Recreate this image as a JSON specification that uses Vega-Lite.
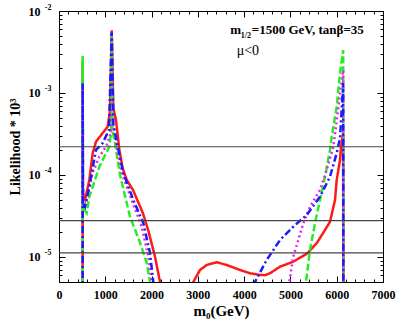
{
  "$schema": "https://vega.github.io/schema/vega-lite/v6.json",
  "width": 324,
  "height": 271,
  "autosize": "none",
  "padding": {"left": 59, "top": 11, "right": 13, "bottom": 45},
  "config": {
    "view": {"stroke": "#000000", "strokeWidth": 1},
    "axis": {"domain": false, "grid": false, "tickColor": "#000000", "tickWidth": 1, "labelColor": "#000000", "titleColor": "#000000", "labelFont": "Liberation Serif", "titleFont": "Liberation Serif", "labelFontWeight": "bold", "titleFontWeight": "bold", "labelFlush": false, "labelOverlap": false}
  },
  "datasets": {
    "curves": [
      {"m0": 510, "L": 1e-8, "s": "s1"}, {"m0": 512, "L": 2.48e-3, "s": "s1"}, {"m0": 516, "L": 6.0e-5, "s": "s1"}, {"m0": 565, "L": 5.0e-5, "s": "s1"}, {"m0": 655, "L": 8.7e-5, "s": "s1"}, {"m0": 728, "L": 1.85e-4, "s": "s1"}, {"m0": 799, "L": 2.55e-4, "s": "s1"}, {"m0": 944, "L": 3.25e-4, "s": "s1"}, {"m0": 1052, "L": 3.88e-4, "s": "s1"}, {"m0": 1100, "L": 6.0e-4, "s": "s1"}, {"m0": 1139, "L": 5.8e-3, "s": "s1"}, {"m0": 1175, "L": 6.5e-4, "s": "s1"}, {"m0": 1231, "L": 4.7e-4, "s": "s1"}, {"m0": 1303, "L": 2.05e-4, "s": "s1"}, {"m0": 1376, "L": 1.2e-4, "s": "s1"}, {"m0": 1463, "L": 8.7e-5, "s": "s1"}, {"m0": 1599, "L": 6.56e-5, "s": "s1"}, {"m0": 1815, "L": 3.4e-5, "s": "s1"}, {"m0": 1929, "L": 2.1e-5, "s": "s1"}, {"m0": 2074, "L": 1.01e-5, "s": "s1"}, {"m0": 2182, "L": 4.95e-6, "s": "s1"}, {"m0": 2230, "L": 1e-8, "s": "s1"}, {"m0": 2860, "L": 1e-8, "s": "s1"}, {"m0": 2902, "L": 4.95e-6, "s": "s1"}, {"m0": 3046, "L": 6.94e-6, "s": "s1"}, {"m0": 3191, "L": 7.98e-6, "s": "s1"}, {"m0": 3407, "L": 8.62e-6, "s": "s1"}, {"m0": 3623, "L": 7.98e-6, "s": "s1"}, {"m0": 3911, "L": 6.94e-6, "s": "s1"}, {"m0": 4127, "L": 6.33e-6, "s": "s1"}, {"m0": 4343, "L": 6.03e-6, "s": "s1"}, {"m0": 4450, "L": 6.0e-6, "s": "s1"}, {"m0": 4559, "L": 6.33e-6, "s": "s1"}, {"m0": 4775, "L": 7.61e-6, "s": "s1"}, {"m0": 5062, "L": 8.76e-6, "s": "s1"}, {"m0": 5351, "L": 1.09e-5, "s": "s1"}, {"m0": 5567, "L": 1.47e-5, "s": "s1"}, {"m0": 5747, "L": 2.13e-5, "s": "s1"}, {"m0": 5855, "L": 2.69e-5, "s": "s1"}, {"m0": 5963, "L": 4.95e-5, "s": "s1"}, {"m0": 6000, "L": 8.69e-5, "s": "s1"}, {"m0": 6071, "L": 1.52e-4, "s": "s1"}, {"m0": 6093, "L": 2.21e-4, "s": "s1"}, {"m0": 6138, "L": 3.25e-4, "s": "s1"}, {"m0": 6146, "L": 1e-8, "s": "s1"},
      {"m0": 510, "L": 1e-8, "s": "s2"}, {"m0": 512, "L": 2.83e-3, "s": "s2"}, {"m0": 518, "L": 4.0e-5, "s": "s2"}, {"m0": 598, "L": 3.44e-5, "s": "s2"}, {"m0": 655, "L": 5.44e-5, "s": "s2"}, {"m0": 871, "L": 1.26e-4, "s": "s2"}, {"m0": 1087, "L": 2.21e-4, "s": "s2"}, {"m0": 1125, "L": 3.3e-4, "s": "s2"}, {"m0": 1139, "L": 5.5e-3, "s": "s2"}, {"m0": 1155, "L": 3.5e-4, "s": "s2"}, {"m0": 1210, "L": 2.45e-4, "s": "s2"}, {"m0": 1318, "L": 1.0e-4, "s": "s2"}, {"m0": 1534, "L": 3.1e-5, "s": "s2"}, {"m0": 1750, "L": 1.5e-5, "s": "s2"}, {"m0": 1895, "L": 8.5e-6, "s": "s2"}, {"m0": 1966, "L": 4.95e-6, "s": "s2"}, {"m0": 2010, "L": 1e-8, "s": "s2"}, {"m0": 5290, "L": 1e-8, "s": "s2"}, {"m0": 5336, "L": 4.95e-6, "s": "s2"}, {"m0": 5423, "L": 1.22e-5, "s": "s2"}, {"m0": 5531, "L": 2.58e-5, "s": "s2"}, {"m0": 5639, "L": 4.95e-5, "s": "s2"}, {"m0": 5747, "L": 9.53e-5, "s": "s2"}, {"m0": 5855, "L": 2.02e-4, "s": "s2"}, {"m0": 5892, "L": 2.93e-4, "s": "s2"}, {"m0": 6000, "L": 6.81e-4, "s": "s2"}, {"m0": 6071, "L": 1.75e-3, "s": "s2"}, {"m0": 6140, "L": 3.34e-3, "s": "s2"}, {"m0": 6148, "L": 1e-8, "s": "s2"},
      {"m0": 510, "L": 1e-8, "s": "s3"}, {"m0": 512, "L": 1.2e-3, "s": "s3"}, {"m0": 518, "L": 4.5e-5, "s": "s3"}, {"m0": 570, "L": 4.3e-5, "s": "s3"}, {"m0": 728, "L": 1.06e-4, "s": "s3"}, {"m0": 871, "L": 1.67e-4, "s": "s3"}, {"m0": 1015, "L": 2.21e-4, "s": "s3"}, {"m0": 1123, "L": 3.25e-4, "s": "s3"}, {"m0": 1139, "L": 5.5e-3, "s": "s3"}, {"m0": 1165, "L": 4.2e-4, "s": "s3"}, {"m0": 1240, "L": 2.3e-4, "s": "s3"}, {"m0": 1355, "L": 1.06e-4, "s": "s3"}, {"m0": 1571, "L": 4.95e-5, "s": "s3"}, {"m0": 1787, "L": 2.34e-5, "s": "s3"}, {"m0": 1929, "L": 1.01e-5, "s": "s3"}, {"m0": 2003, "L": 4.95e-6, "s": "s3"}, {"m0": 2050, "L": 1e-8, "s": "s3"}, {"m0": 4930, "L": 1e-8, "s": "s3"}, {"m0": 4976, "L": 4.95e-6, "s": "s3"}, {"m0": 5062, "L": 1.01e-5, "s": "s3"}, {"m0": 5170, "L": 1.61e-5, "s": "s3"}, {"m0": 5278, "L": 2.58e-5, "s": "s3"}, {"m0": 5423, "L": 4.1e-5, "s": "s3"}, {"m0": 5639, "L": 6.56e-5, "s": "s3"}, {"m0": 5783, "L": 1.15e-4, "s": "s3"}, {"m0": 5927, "L": 2.21e-4, "s": "s3"}, {"m0": 6140, "L": 1.9e-3, "s": "s3"}, {"m0": 6148, "L": 1e-8, "s": "s3"},
      {"m0": 510, "L": 1e-8, "s": "s4"}, {"m0": 512, "L": 1.32e-3, "s": "s4"}, {"m0": 518, "L": 4.5e-5, "s": "s4"}, {"m0": 562, "L": 4.1e-5, "s": "s4"}, {"m0": 655, "L": 7.19e-5, "s": "s4"}, {"m0": 799, "L": 2.02e-4, "s": "s4"}, {"m0": 944, "L": 2.45e-4, "s": "s4"}, {"m0": 1080, "L": 3.54e-4, "s": "s4"}, {"m0": 1139, "L": 5.5e-3, "s": "s4"}, {"m0": 1175, "L": 4.2e-4, "s": "s4"}, {"m0": 1250, "L": 2.5e-4, "s": "s4"}, {"m0": 1389, "L": 1.06e-4, "s": "s4"}, {"m0": 1605, "L": 4.95e-5, "s": "s4"}, {"m0": 1821, "L": 2.6e-5, "s": "s4"}, {"m0": 1966, "L": 1.12e-5, "s": "s4"}, {"m0": 2037, "L": 4.95e-6, "s": "s4"}, {"m0": 2080, "L": 1e-8, "s": "s4"}, {"m0": 4190, "L": 1e-8, "s": "s4"}, {"m0": 4234, "L": 4.95e-6, "s": "s4"}, {"m0": 4487, "L": 9.19e-6, "s": "s4"}, {"m0": 4775, "L": 1.61e-5, "s": "s4"}, {"m0": 5062, "L": 2.34e-5, "s": "s4"}, {"m0": 5351, "L": 3.25e-5, "s": "s4"}, {"m0": 5639, "L": 5.44e-5, "s": "s4"}, {"m0": 5855, "L": 9.53e-5, "s": "s4"}, {"m0": 6000, "L": 1.85e-4, "s": "s4"}, {"m0": 6071, "L": 2.8e-4, "s": "s4"}, {"m0": 6140, "L": 1.32e-3, "s": "s4"}, {"m0": 6148, "L": 1e-8, "s": "s4"}
    ],
    "cuts": [{"L": 2.21e-4}, {"L": 2.77e-5}, {"L": 1.12e-5}],
    "mainText": [{"m0": 3700, "L": 5.2e-3, "t": "m"}, {"m0": 4165, "L": 5.2e-3, "t": "=1500 GeV, tanβ=35"}],
    "subText": [{"m0": 3925, "L": 4.7e-3, "t": "1/2"}],
    "muText": [{"m0": 3839, "L": 2.9e-3, "t": "μ<0"}]
  },
  "resolve": {"axis": {"x": "independent", "y": "independent"}},
  "layer": [
    {
      "data": {"name": "curves"},
      "mark": {"type": "line", "strokeWidth": 2.5, "clip": true},
      "encoding": {
        "x": {"field": "m0", "type": "quantitative", "scale": {"domain": [0, 7000], "nice": false, "zero": false},
          "axis": {"orient": "bottom", "values": [0, 1000, 2000, 3000, 4000, 5000, 6000, 7000], "format": "d", "tickSize": -6, "labelPadding": 13, "labelFontSize": 12, "title": "m₀(GeV)", "titleFontSize": 15, "titlePadding": 3}},
        "y": {"field": "L", "type": "quantitative", "scale": {"type": "log", "domain": [4.95e-6, 1e-2], "nice": false},
          "axis": {"orient": "left", "values": [1e-5, 1e-4, 1e-3, 1e-2], "labelExpr": "'10'", "tickSize": -6, "labelPadding": 25, "labelFontSize": 12, "labelBaseline": "middle", "title": "Likelihood * 10³", "titleFontSize": 14, "titlePadding": 6}},
        "color": {"field": "s", "type": "nominal", "scale": {"domain": ["s1", "s2", "s3", "s4"], "range": ["#ff1a1a", "#22ee22", "#ee22ee", "#1a1aff"]}, "legend": null},
        "strokeDash": {"field": "s", "type": "nominal", "scale": {"domain": ["s1", "s2", "s3", "s4"], "range": [[1, 0], [7, 3], [2, 3], [7, 3, 2, 3]]}, "legend": null}
      }
    },
    {
      "data": {"name": "cuts"},
      "mark": {"type": "rule", "color": "#444444", "strokeWidth": 1.2, "clip": true},
      "encoding": {
        "y": {"field": "L", "type": "quantitative", "scale": {"type": "log", "domain": [4.95e-6, 1e-2], "nice": false},
          "axis": {"orient": "left", "values": [1e-5, 1e-4, 1e-3, 1e-2], "labelExpr": "'' + round(log(datum.value)/LN10)", "ticks": false, "labelPadding": 8, "labelOffset": -4, "labelFontSize": 8, "labelBaseline": "middle", "title": null}}
      }
    },
    {
      "data": {"name": "mainText"},
      "mark": {"type": "text", "font": "Liberation Serif", "fontWeight": "bold", "fontSize": 13, "align": "left", "baseline": "alphabetic", "color": "#000000"},
      "encoding": {
        "x": {"field": "m0", "type": "quantitative", "scale": {"domain": [0, 7000], "nice": false, "zero": false},
          "axis": {"orient": "bottom", "values": [200, 400, 600, 800, 1200, 1400, 1600, 1800, 2200, 2400, 2600, 2800, 3200, 3400, 3600, 3800, 4200, 4400, 4600, 4800, 5200, 5400, 5600, 5800, 6200, 6400, 6600, 6800], "tickSize": -3, "labels": false, "title": null}},
        "y": {"field": "L", "type": "quantitative", "scale": {"type": "log", "domain": [4.95e-6, 1e-2], "nice": false},
          "axis": {"orient": "left", "values": [5e-6, 6e-6, 7e-6, 8e-6, 9e-6, 2e-5, 3e-5, 4e-5, 5e-5, 6e-5, 7e-5, 8e-5, 9e-5, 2e-4, 3e-4, 4e-4, 5e-4, 6e-4, 7e-4, 8e-4, 9e-4, 2e-3, 3e-3, 4e-3, 5e-3, 6e-3, 7e-3, 8e-3, 9e-3], "tickSize": -3, "labels": false, "title": null}},
        "text": {"field": "t"}
      }
    },
    {
      "data": {"name": "subText"},
      "mark": {"type": "text", "font": "Liberation Serif", "fontWeight": "bold", "fontSize": 8, "align": "left", "baseline": "alphabetic", "color": "#000000"},
      "encoding": {
        "x": {"field": "m0", "type": "quantitative", "scale": {"domain": [0, 7000], "nice": false, "zero": false},
          "axis": {"orient": "top", "values": [0, 1000, 2000, 3000, 4000, 5000, 6000, 7000], "tickSize": -6, "labels": false, "title": null}},
        "y": {"field": "L", "type": "quantitative", "scale": {"type": "log", "domain": [4.95e-6, 1e-2], "nice": false},
          "axis": {"orient": "right", "values": [1e-5, 1e-4, 1e-3, 1e-2], "tickSize": -6, "labels": false, "title": null}},
        "text": {"field": "t"}
      }
    },
    {
      "data": {"name": "muText"},
      "mark": {"type": "text", "font": "Liberation Serif", "fontSize": 14, "align": "left", "baseline": "alphabetic", "color": "#000000"},
      "encoding": {
        "x": {"field": "m0", "type": "quantitative", "scale": {"domain": [0, 7000], "nice": false, "zero": false},
          "axis": {"orient": "top", "values": [200, 400, 600, 800, 1200, 1400, 1600, 1800, 2200, 2400, 2600, 2800, 3200, 3400, 3600, 3800, 4200, 4400, 4600, 4800, 5200, 5400, 5600, 5800, 6200, 6400, 6600, 6800], "tickSize": -3, "labels": false, "title": null}},
        "y": {"field": "L", "type": "quantitative", "scale": {"type": "log", "domain": [4.95e-6, 1e-2], "nice": false},
          "axis": {"orient": "right", "values": [5e-6, 6e-6, 7e-6, 8e-6, 9e-6, 2e-5, 3e-5, 4e-5, 5e-5, 6e-5, 7e-5, 8e-5, 9e-5, 2e-4, 3e-4, 4e-4, 5e-4, 6e-4, 7e-4, 8e-4, 9e-4, 2e-3, 3e-3, 4e-3, 5e-3, 6e-3, 7e-3, 8e-3, 9e-3], "tickSize": -3, "labels": false, "title": null}},
        "text": {"field": "t"}
      }
    }
  ]
}
